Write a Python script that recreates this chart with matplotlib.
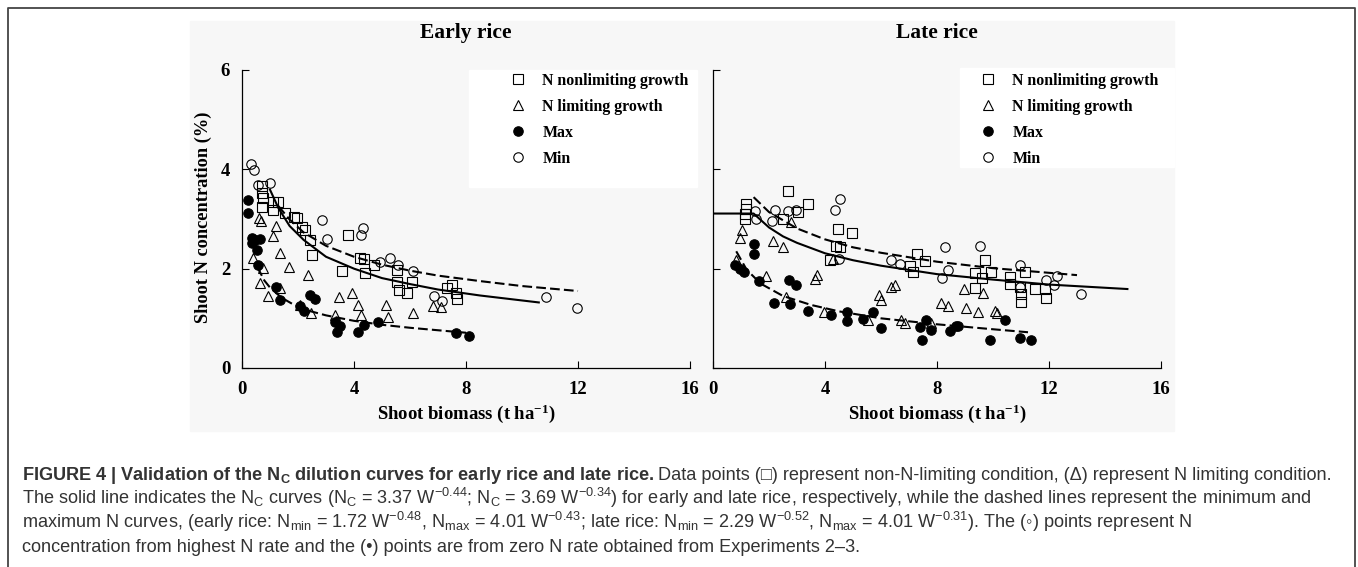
import matplotlib.pyplot as plt
from matplotlib.patches import Rectangle
from matplotlib.lines import Line2D

# ---- early rice -------------------------------------------------------
early_nonlim_x = [0.70, 0.70, 0.76, 0.70, 1.12, 1.30, 1.12, 1.54, 1.84, 1.96, 2.14, 2.25,
                  2.43, 2.49, 3.77, 3.57, 4.22, 4.34, 4.40, 4.70, 5.54, 5.62, 5.54, 5.89,
                  6.07, 7.33, 7.50, 7.63, 7.68]
early_nonlim_y = [3.66, 3.52, 3.42, 3.25, 3.35, 3.35, 3.19, 3.12, 3.05, 3.02, 2.84, 2.78,
                  2.58, 2.28, 2.68, 1.96, 2.21, 2.19, 1.91, 2.08, 1.98, 1.57, 1.74, 1.51,
                  1.74, 1.61, 1.67, 1.51, 1.38]

early_lim_x = [0.62, 0.67, 1.22, 1.12, 0.41, 0.76, 0.64, 0.94, 1.36, 1.34, 1.69, 2.37,
               2.08, 2.46, 3.33, 3.48, 3.93, 4.16, 4.25, 5.13, 5.21, 6.10, 6.81, 7.11]
early_lim_y = [3.02, 2.95, 2.85, 2.65, 2.21, 2.01, 1.71, 1.44, 1.61, 2.31, 2.04, 1.88,
               1.27, 1.10, 1.07, 1.42, 1.51, 1.27, 1.07, 1.27, 1.02, 1.10, 1.25, 1.22]

early_max_x = [0.23, 0.23, 0.35, 0.35, 0.47, 0.64, 0.55, 0.58, 1.22, 1.34, 2.08, 2.20,
               2.44, 2.61, 3.33, 3.39, 3.51, 4.16, 4.34, 4.86, 7.66, 8.10]
early_max_y = [3.39, 3.12, 2.61, 2.51, 2.58, 2.59, 2.38, 2.08, 1.64, 1.37, 1.24, 1.14,
               1.47, 1.38, 0.93, 0.73, 0.85, 0.73, 0.87, 0.92, 0.70, 0.65]

early_min_x = [0.31, 0.43, 0.58, 1.00, 2.85, 3.03, 4.32, 4.25, 4.94, 5.30, 5.56, 6.10,
               6.85, 7.15, 10.87, 11.98]
early_min_y = [4.11, 3.98, 3.69, 3.72, 2.98, 2.59, 2.81, 2.67, 2.14, 2.22, 2.08, 1.96,
               1.44, 1.34, 1.42, 1.20]

early_nc_x = [1.0, 1.3, 1.7, 2.2, 3.0, 4.0, 5.0, 6.0, 7.0, 8.5, 10.6]
early_nc_y = [3.59, 3.22, 2.86, 2.58, 2.24, 2.00, 1.81, 1.69, 1.58, 1.46, 1.32]
early_nmax_x = [1.3, 1.7, 2.2, 3.0, 4.0, 5.0, 6.0, 7.0, 8.5, 10.0, 12.0]
early_nmax_y = [3.26, 2.99, 2.73, 2.46, 2.24, 2.08, 1.96, 1.86, 1.75, 1.65, 1.55]
early_nmin_x = [0.55, 0.8, 1.0, 1.4, 1.8, 2.4, 3.0, 4.0, 5.0, 6.0, 7.0, 8.0]
early_nmin_y = [2.03, 1.76, 1.62, 1.42, 1.29, 1.15, 1.06, 0.95, 0.87, 0.81, 0.76, 0.71]

# ---- late rice --------------------------------------------------------
late_nonlim_x = [1.19, 1.19, 1.13, 1.13, 2.68, 2.50, 3.04, 3.40, 4.47, 4.98, 4.38, 4.53,
                 4.17, 7.27, 7.56, 7.05, 7.15, 9.71, 9.35, 9.59, 9.92, 9.35, 10.60, 10.60,
                 11.14, 10.96, 11.00, 11.00, 11.50, 11.86, 11.91]
late_nonlim_y = [3.31, 3.21, 3.11, 3.01, 3.57, 3.01, 3.15, 3.31, 2.79, 2.72, 2.45, 2.43,
                 2.18, 2.29, 2.15, 2.06, 1.94, 2.18, 1.92, 1.82, 1.94, 1.62, 1.83, 1.70,
                 1.94, 1.63, 1.50, 1.33, 1.60, 1.60, 1.40]

late_lim_x = [0.83, 0.95, 1.04, 2.14, 2.50, 2.80, 1.91, 2.60, 3.63, 3.72, 3.96, 4.29,
              5.93, 5.99, 6.37, 6.49, 5.52, 6.71, 6.85, 7.78, 8.16, 8.40, 8.97, 9.03,
              9.47, 9.65, 10.07, 10.16]
late_lim_y = [2.18, 2.61, 2.78, 2.55, 2.44, 2.94, 1.85, 1.42, 1.80, 1.87, 1.13, 2.20,
              1.47, 1.36, 1.63, 1.67, 0.97, 0.97, 0.91, 0.91, 1.31, 1.24, 1.60, 1.20,
              1.12, 1.51, 1.15, 1.10]

late_max_x = [0.77, 0.95, 1.11, 1.45, 1.45, 1.64, 2.72, 2.98, 2.17, 2.76, 3.40, 4.23,
              4.77, 4.80, 5.36, 5.72, 5.99, 7.41, 7.59, 7.45, 7.78, 8.46, 8.67, 8.76,
              9.91, 10.44, 10.96, 11.35]
late_max_y = [2.07, 2.00, 1.94, 2.49, 2.29, 1.75, 1.78, 1.67, 1.30, 1.28, 1.15, 1.06,
              1.12, 0.95, 0.99, 1.13, 0.81, 0.83, 0.97, 0.57, 0.76, 0.75, 0.84, 0.85,
              0.57, 0.96, 0.61, 0.56]

late_min_x = [1.49, 1.53, 2.20, 2.12, 2.68, 2.95, 4.35, 4.55, 4.50, 6.37, 6.67, 8.28,
              8.40, 8.18, 9.55, 10.96, 10.96, 11.89, 12.19, 12.27, 13.16]
late_min_y = [3.17, 3.01, 3.18, 2.96, 3.17, 3.18, 3.18, 3.40, 2.20, 2.18, 2.09, 2.43,
              1.98, 1.82, 2.46, 2.07, 1.63, 1.77, 1.67, 1.85, 1.50]

late_nc_x = [0, 1.45, 2.0, 2.5, 3.0, 4.0, 5.0, 6.0, 8.0, 10.0, 12.0, 14.8]
late_nc_y = [3.11, 3.11, 2.83, 2.65, 2.52, 2.31, 2.17, 2.06, 1.89, 1.78, 1.68, 1.59]
late_nmax_x = [1.45, 2.0, 3.0, 4.0, 5.0, 6.0, 8.0, 10.0, 13.0]
late_nmax_y = [3.44, 3.14, 2.81, 2.59, 2.43, 2.32, 2.14, 2.01, 1.87]
late_nmin_x = [0.83, 1.2, 1.7, 2.5, 3.5, 4.5, 6.0, 8.0, 10.0, 11.25]
late_nmin_y = [2.35, 1.98, 1.70, 1.45, 1.27, 1.14, 1.00, 0.88, 0.78, 0.72]

x_ticks = [0, 4, 8, 12, 16]
y_ticks = [0, 2, 4, 6]
legend_labels = ['N nonlimiting growth', 'N limiting growth', 'Max', 'Min']

SERIF = ['Liberation Serif', 'DejaVu Serif']
SANS = ['Liberation Sans', 'DejaVu Sans']
plt.rcParams['font.family'] = SERIF
plt.rcParams['font.weight'] = 'bold'
plt.rcParams['lines.scale_dashes'] = False

W, H = 1358, 567


def fx(px):
    return px / W


def fy(py):
    return 1 - py / H


fig = plt.figure(figsize=(W / 100, H / 100), dpi=100)

# light grey plate behind the two panels, with white patches under the legends
fig.add_artist(Rectangle((fx(190), fy(431)), (1174 - 190) / W, (431 - 21) / H,
                         transform=fig.transFigure, color='#f7f7f7', zorder=-5))
fig.add_artist(Rectangle((fx(469), fy(187)), (697 - 469) / W, (187 - 70) / H,
                         transform=fig.transFigure, color='white', zorder=-4))
fig.add_artist(Rectangle((fx(960), fy(167)), (1174 - 960) / W, (167 - 68) / H,
                         transform=fig.transFigure, color='white', zorder=-4))

# outer frame, open at the bottom
fig.add_artist(Line2D([fx(8), fx(8), fx(1355), fx(1355)], [0, fy(8), fy(8), 0],
                      transform=fig.transFigure, color='#444444', lw=1.3))

panels = [
    dict(left=242, title='Early rice',
         nonlim=(early_nonlim_x, early_nonlim_y), lim=(early_lim_x, early_lim_y),
         mx=(early_max_x, early_max_y), mn=(early_min_x, early_min_y),
         nc=(early_nc_x, early_nc_y), nmax=(early_nmax_x, early_nmax_y),
         nmin=(early_nmin_x, early_nmin_y), leg=(518, 80)),
    dict(left=713, title='Late rice',
         nonlim=(late_nonlim_x, late_nonlim_y), lim=(late_lim_x, late_lim_y),
         mx=(late_max_x, late_max_y), mn=(late_min_x, late_min_y),
         nc=(late_nc_x, late_nc_y), nmax=(late_nmax_x, late_nmax_y),
         nmin=(late_nmin_x, late_nmin_y), leg=(988, 80)),
]

ax_w, ax_top, ax_bot = 448, 70, 368
for i, p in enumerate(panels):
    ax = fig.add_axes([fx(p['left']), fy(ax_bot), ax_w / W, (ax_bot - ax_top) / H])
    ax.patch.set_visible(False)

    ms = 6.8
    mew = 0.8
    h1, = ax.plot(*p['nonlim'], 's', ms=ms, mfc='none', mec='black', mew=mew)
    h2, = ax.plot(*p['lim'], '^', ms=ms + 0.6, mfc='none', mec='black', mew=mew)
    h3, = ax.plot(*p['mx'], 'o', ms=ms, mfc='black', mec='black', mew=mew)
    h4, = ax.plot(*p['mn'], 'o', ms=ms, mfc='none', mec='black', mew=mew)

    ax.plot(*p['nc'], color='black', lw=1.5)
    ax.plot(*p['nmax'], color='black', lw=1.5, dashes=(7, 3))
    ax.plot(*p['nmin'], color='black', lw=1.5, dashes=(7, 3))

    ax.set_xlim(0, 16)
    ax.set_ylim(0, 6)
    ax.set_xticks(x_ticks)
    ax.set_yticks(y_ticks)
    ax.spines[['top', 'right']].set_visible(False)
    for s in ('left', 'bottom'):
        ax.spines[s].set_linewidth(0.9)
    ax.tick_params(direction='in', length=5, width=0.8, labelsize=13.5)
    ax.tick_params(axis='x', pad=9)
    ax.tick_params(axis='y', pad=8.5, labelleft=(i == 0))

    lx, ly = p['leg']
    ax.legend([h1, h2, h3, h4], legend_labels, loc='upper left',
              bbox_to_anchor=(fx(lx - 8), fy(ly - 7)), bbox_transform=fig.transFigure,
              frameon=False, borderpad=0, borderaxespad=0, handlelength=1.0,
              handletextpad=1.05, labelspacing=0.63,
              prop=dict(family=SERIF, weight='bold', size=11.4))

    cx = p['left'] + ax_w / 2
    fig.text(fx(cx), fy(33), p['title'], ha='center', va='center', fontsize=15.5)
    fig.text(fx(cx), fy(414), r'Shoot biomass (t ha$\mathregular{^{-1}}$)',
             ha='center', va='center', fontsize=13.5)

fig.text(fx(203), fy(217), 'Shoot N concentration (%)', rotation=90,
         ha='center', va='center', fontsize=13.2)

# caption
cap_kw = dict(family=SANS, fontsize=13.1, color='#333333', va='baseline')
x0 = fx(22)
base = 480
step = 24
t_bold = fig.text(x0, fy(base),
                  r'FIGURE 4 | Validation of the N$\mathregular{_C}$ dilution curves for early rice and late rice.',
                  weight='bold', **cap_kw)
fig.canvas.draw()
bw = t_bold.get_window_extent(fig.canvas.get_renderer()).width
fig.text(x0 + (bw + 4) / W, fy(base),
         'Data points (\u25a1) represent non-N-limiting condition, (\u0394) represent N limiting condition.',
         weight='normal', **cap_kw)

cap_lines = [
    r'The solid line indicates the N$\mathregular{_C}$ curves (N$\mathregular{_C}$ = 3.37 W$\mathregular{^{-0.44}}$; '
    r'N$\mathregular{_C}$ = 3.69 W$\mathregular{^{-0.34}}$) for early and late rice, respectively, '
    r'while the dashed lines represent the minimum and',
    r'maximum N curves, (early rice: N$\mathregular{_{min}}$ = 1.72 W$\mathregular{^{-0.48}}$, '
    r'N$\mathregular{_{max}}$ = 4.01 W$\mathregular{^{-0.43}}$; late rice: N$\mathregular{_{min}}$ = 2.29 '
    r'W$\mathregular{^{-0.52}}$, N$\mathregular{_{max}}$ = 4.01 W$\mathregular{^{-0.31}}$). '
    'The (\u25e6) points represent N',
    'concentration from highest N rate and the (\u2022) points are from zero N rate obtained from Experiments 2\u20133.',
]
for k, line in enumerate(cap_lines):
    fig.text(x0, fy(base + step * (k + 1)), line, weight='normal', **cap_kw)

fig.savefig('out.png', dpi=100)
